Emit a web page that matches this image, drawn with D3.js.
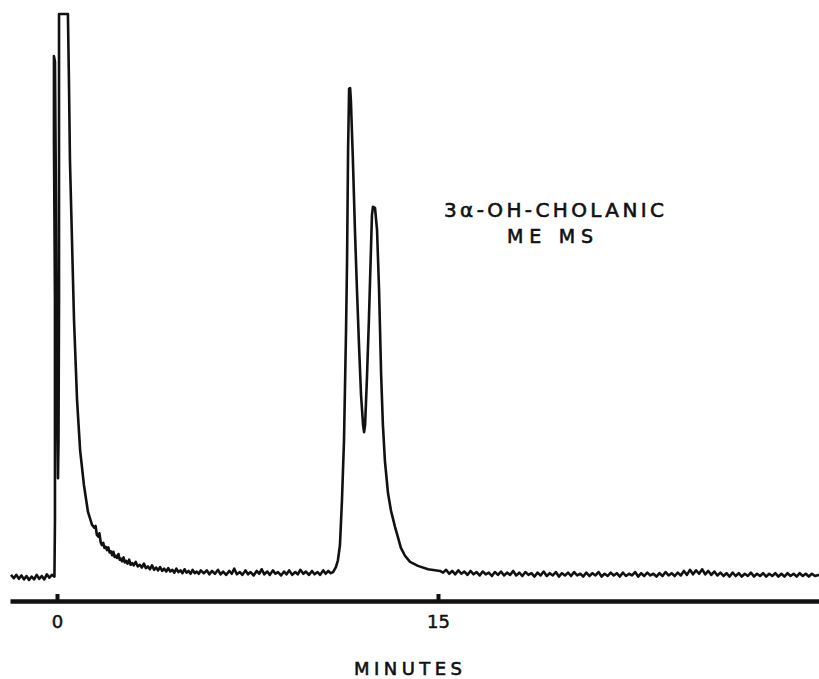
<!DOCTYPE html>
<html>
<head>
<meta charset="utf-8">
<script src="https://cdn.jsdelivr.net/npm/d3@7"></script>
<style>
  body { margin: 0; background: #fff; }
  svg { display: block; }
  .trace { fill: none; stroke: #111; stroke-width: 2.6; stroke-linejoin: round; }
  .axis path.domain { stroke: #111; stroke-width: 4.5; }
  .axis line { stroke: #111; stroke-width: 4; }
  .axis text { font-family: "DejaVu Sans", sans-serif; font-size: 18px; fill: #111; stroke: #111; stroke-width: 0.5; }
  .label { font-family: "DejaVu Sans", sans-serif; fill: #111; stroke: #111; stroke-width: 0.6; }
</style>
</head>
<body>
<div id="chart"></div>
<script>
var svgWidth = 819;
var svgHeight = 679;

// detector trace, [minutes, response]
var baselineLeft = [
  [-1.81, 0.2], [-1.70, -0.4], [-1.60, 0.2], [-1.50, -0.5], [-1.40, 0.1], [-1.30, -0.6],
  [-1.20, 0.0], [-1.10, -0.7], [-1.00, -0.1], [-0.90, -0.6], [-0.80, 0.2], [-0.70, -0.5],
  [-0.60, 0.0], [-0.50, -0.6], [-0.40, 0.3], [-0.30, -0.3], [-0.20, 0.2], [-0.10, -0.1]
];

var solventPeak = [
  [-0.08, 10.0], [-0.08, 49.1], [-0.12, 77.6], [-0.12, 92.5], [-0.08, 91.5], [-0.04, 66.9],
  [0.00, 34.9], [0.04, 17.4], [0.06, 24.2], [0.08, 49.1], [0.08, 75.8], [0.08, 100],
  [0.43, 100], [0.47, 88.3], [0.51, 74.0], [0.59, 59.8], [0.67, 45.6], [0.79, 31.3],
  [0.91, 22.4], [1.06, 16.2], [1.22, 11.4], [1.38, 9.1]
];

var solventTail = [
  [1.47, 8.6], [1.52, 8.9], [1.57, 7.3], [1.63, 7.0], [1.67, 7.6], [1.72, 6.0], [1.77, 5.5],
  [1.82, 5.9], [1.87, 5.0], [1.92, 5.2], [1.97, 4.6], [2.02, 5.1], [2.07, 4.2], [2.12, 4.4],
  [2.17, 3.7], [2.22, 4.3], [2.27, 3.4], [2.32, 3.6], [2.36, 3.2], [2.42, 3.9], [2.47, 2.9],
  [2.52, 3.1], [2.56, 2.6], [2.62, 3.3], [2.67, 2.4], [2.72, 2.7], [2.78, 2.2], [2.84, 2.9],
  [2.90, 2.0], [2.96, 2.3], [3.02, 1.9], [3.10, 2.5], [3.18, 1.7], [3.26, 2.0], [3.34, 1.5],
  [3.42, 2.2], [3.50, 1.4], [3.58, 1.7], [3.66, 1.2], [3.74, 1.9], [3.82, 1.1], [3.90, 1.5],
  [3.98, 1.0], [4.06, 1.6], [4.14, 0.9], [4.22, 1.3], [4.30, 0.8], [4.38, 1.4], [4.46, 0.8],
  [4.54, 1.1], [4.62, 0.6], [4.70, 1.3], [4.78, 0.7], [4.86, 1.0], [4.94, 0.5], [5.02, 1.2],
  [5.10, 0.6], [5.18, 0.9], [5.26, 0.4], [5.34, 1.1], [5.42, 0.5], [5.50, 0.8], [5.58, 0.4],
  [5.66, 1.0]
];

var baselineMid = [
  [5.78, 0.5], [5.90, 1.0], [6.00, 0.3], [6.10, 0.9], [6.22, 0.4], [6.34, 1.1], [6.44, 0.3],
  [6.54, 0.8], [6.66, 0.2], [6.78, 0.9], [6.88, 0.4], [6.98, 1.3], [7.08, 0.3], [7.20, 0.7],
  [7.30, 0.2], [7.42, 1.0], [7.52, 0.3], [7.62, 0.7], [7.74, 0.1], [7.86, 0.9], [7.96, 0.4],
  [8.06, 1.2], [8.16, 0.3], [8.28, 0.8], [8.38, 0.2], [8.50, 1.0], [8.60, 0.4], [8.70, 0.7],
  [8.82, 0.1], [8.94, 0.8], [9.04, 0.3], [9.14, 1.0], [9.26, 0.2], [9.38, 0.7], [9.48, 0.3],
  [9.58, 1.1], [9.70, 0.4], [9.80, 0.8], [9.92, 0.2], [10.04, 0.9], [10.14, 0.3], [10.26, 0.7],
  [10.36, 0.2], [10.48, 1.0], [10.58, 0.4], [10.68, 0.9], [10.78, 0.5]
];

// the two ester peaks
var doubletPeaks = [
  [10.87, 0.7], [10.98, 1.6], [11.06, 2.8], [11.14, 5.5], [11.22, 13.5], [11.30, 24.2],
  [11.38, 43.8], [11.42, 56.2], [11.46, 75.8], [11.50, 86.7], [11.54, 86.8], [11.57, 84.7],
  [11.65, 74.0], [11.73, 61.6], [11.81, 50.9], [11.89, 41.1], [11.97, 32.2], [12.05, 26.9],
  [12.09, 25.6], [12.13, 26.9], [12.20, 34.9], [12.28, 45.6], [12.36, 58.0], [12.40, 64.2],
  [12.44, 65.7], [12.52, 65.5], [12.60, 61.6], [12.68, 50.9], [12.76, 36.0], [12.83, 27.0],
  [12.91, 20.5], [13.03, 14.8], [13.15, 11.6], [13.31, 8.7], [13.43, 6.8], [13.54, 5.0],
  [13.70, 3.6], [13.90, 2.5], [14.21, 1.8], [14.61, 1.2], [15.08, 0.9]
];

var baselineRight = [
  [15.20, 0.6], [15.32, 1.1], [15.44, 0.4], [15.56, 0.9], [15.68, 0.3], [15.80, 1.0], [15.92, 0.4],
  [16.04, 0.8], [16.16, 0.2], [16.28, 0.9], [16.40, 0.3], [16.52, 0.7], [16.64, 0.1], [16.76, 0.8],
  [16.88, 0.3], [17.00, 0.6], [17.12, 0.0], [17.24, 0.7], [17.36, 0.2], [17.48, 0.8], [17.60, 0.1],
  [17.72, 0.6], [17.84, 0.2], [17.96, 0.9], [18.08, 0.1], [18.20, 0.6], [18.32, 0.0], [18.44, 0.7],
  [18.56, 0.2], [18.68, 0.5], [18.80, -0.1], [18.92, 0.6], [19.04, 0.1], [19.16, 0.8], [19.28, 0.0],
  [19.40, 0.5], [19.52, 0.1], [19.64, 0.7], [19.76, -0.1], [19.88, 0.5], [20.00, 0.1], [20.12, 0.6],
  [20.24, 0.0], [20.36, 0.7], [20.48, 0.1], [20.60, 0.4], [20.72, -0.1], [20.84, 0.6], [20.96, 0.0],
  [21.08, 0.5], [21.20, 0.1], [21.32, 0.7], [21.44, -0.1], [21.56, 0.4], [21.68, 0.0], [21.80, 0.6],
  [21.92, 0.1], [22.04, 0.5], [22.16, -0.1], [22.28, 0.6], [22.40, 0.0], [22.52, 0.4], [22.64, 0.1],
  [22.76, 0.7], [22.88, -0.1], [23.00, 0.5], [23.12, 0.0], [23.24, 0.6], [23.36, 0.1], [23.48, 0.4],
  [23.60, -0.1], [23.72, 0.5], [23.84, 0.0], [23.96, 0.7], [24.08, 0.1], [24.20, 0.5], [24.32, 0.0],
  [24.44, 0.6], [24.56, 0.1], [24.68, 0.9], [24.80, 0.2], [24.92, 1.1], [25.04, 0.3], [25.16, 1.0],
  [25.28, 0.4], [25.40, 1.2], [25.52, 0.3], [25.64, 0.9], [25.76, 0.2], [25.88, 0.8], [26.00, 0.1],
  [26.12, 0.6], [26.24, 0.0], [26.36, 0.5], [26.48, -0.1], [26.60, 0.6], [26.72, 0.0], [26.84, 0.5],
  [26.96, -0.1], [27.08, 0.4], [27.20, 0.0], [27.32, 0.6], [27.44, -0.1], [27.56, 0.4], [27.68, 0.0],
  [27.80, 0.5], [27.92, -0.1], [28.04, 0.4], [28.16, 0.0], [28.28, 0.5], [28.40, -0.1], [28.52, 0.4],
  [28.64, -0.1], [28.76, 0.5], [28.88, 0.0], [29.00, 0.4], [29.12, -0.1], [29.24, 0.5], [29.36, 0.0],
  [29.48, 0.4], [29.60, -0.1], [29.72, 0.4], [29.84, 0.0], [30.00, 0.2]
];

var tickMinutes = [0, 15];
var xTitle = "MINUTES";
var peakLabel = ["3\u03b1-OH-CHOLANIC", "ME MS"];

var trace = [].concat(baselineLeft, solventPeak, solventTail, baselineMid, doubletPeaks, baselineRight);

var svg = d3.select("#chart")
  .append("svg")
  .attr("width", svgWidth)
  .attr("height", svgHeight);

// 25.4 px per minute, zero at x = 57
var xScale = d3.scaleLinear()
  .domain([-1.85, 30])
  .range([10, 819]);

var yScale = d3.scaleLinear()
  .domain([0, 100])
  .range([576, 14]);

var line = d3.line()
  .x(d => xScale(d[0]))
  .y(d => yScale(d[1]));

svg.append("path")
  .datum(trace)
  .attr("class", "trace")
  .attr("d", line);

// time axis sits below the trace, ticks point upward
var bottomAxis = d3.axisBottom(xScale)
  .tickValues(tickMinutes)
  .tickSizeInner(-7)
  .tickSizeOuter(0)
  .tickPadding(14)
  .tickFormat(d3.format("d"));

svg.append("g")
  .attr("class", "axis")
  .attr("transform", "translate(0, 601)")
  .call(bottomAxis);

svg.append("text")
  .attr("class", "label")
  .attr("x", 354)
  .attr("y", 675)
  .attr("textLength", 108)
  .attr("lengthAdjust", "spacing")
  .style("font-size", "18px")
  .text(xTitle);

svg.append("text")
  .attr("class", "label")
  .attr("x", 444)
  .attr("y", 217)
  .attr("textLength", 220)
  .attr("lengthAdjust", "spacing")
  .style("font-size", "20px")
  .text(peakLabel[0]);

svg.append("text")
  .attr("class", "label")
  .attr("x", 507)
  .attr("y", 243)
  .attr("textLength", 86)
  .attr("lengthAdjust", "spacing")
  .style("font-size", "19px")
  .text(peakLabel[1]);
</script>
</body>
</html>
